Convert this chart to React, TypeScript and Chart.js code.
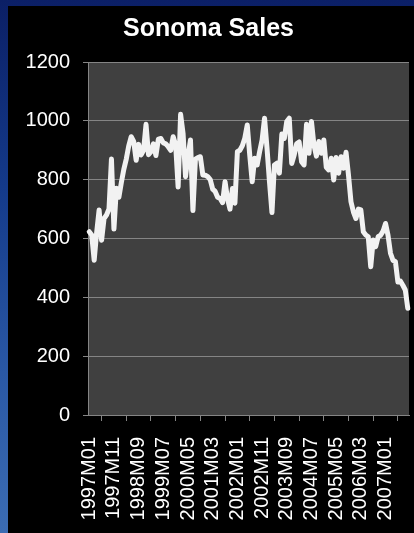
import React, { useEffect, useRef } from "react";
import { Chart, registerables } from "chart.js";

Chart.register(...registerables);

// Monthly sales, 1997M01 .. 2007M10
const START_YEAR = 1997;
const MONTH_COUNT = 130;
const LABEL_EVERY = 10;

const months: string[] = [];
for (let i = 0; i < MONTH_COUNT; i++) {
  const y = START_YEAR + Math.floor(i / 12);
  const m = (i % 12) + 1;
  months.push(`${y}M${m < 10 ? "0" + m : m}`);
}

const sales: number[] = [
  623, 612, 526, 620, 697, 594, 668, 680, 700, 870,
  632, 771, 740, 790, 835, 870, 915, 946, 930, 866,
  920, 884, 900, 988, 885, 895, 922, 882, 938, 940,
  925, 922, 912, 900, 946, 918, 775, 1022, 957, 810,
  880, 935, 695, 870, 875, 878, 816, 815, 810, 800,
  768, 760, 740, 736, 722, 793, 735, 700, 770, 720,
  895, 900, 915, 941, 986, 884, 793, 873, 850, 895,
  935, 1009, 907, 793, 688, 850, 856, 822, 955, 940,
  998, 1009, 855, 884, 922, 928, 861, 850, 988, 890,
  998, 918, 880, 930, 890, 935, 842, 833, 873, 799,
  875, 822, 878, 839, 893, 815, 725, 690, 668, 700,
  697, 623, 612, 606, 504, 595, 572, 606, 611, 625,
  651, 611, 550, 526, 521, 452, 455, 441, 425, 363,
];

const yTicks = { min: 0, max: 1200, step: 200 };

const FONT = "'Liberation Sans', Arial, sans-serif";
const GRID = "#858585";

const plotBackground = {
  id: "plotBackground",
  beforeDraw(chart: Chart) {
    const { ctx, chartArea } = chart;
    if (!chartArea) return;
    ctx.save();
    ctx.fillStyle = "#404040";
    ctx.fillRect(
      chartArea.left,
      chartArea.top,
      chartArea.right - chartArea.left,
      chartArea.bottom - chartArea.top
    );
    ctx.restore();
  },
};

export default function App() {
  const canvasRef = useRef<HTMLCanvasElement | null>(null);

  useEffect(() => {
    const canvas = canvasRef.current;
    if (!canvas) return;
    const chart = new Chart(canvas, {
      type: "line",
      data: {
        labels: months,
        datasets: [
          {
            label: "Sonoma Sales",
            data: sales,
            borderColor: "#f2f2f2",
            borderWidth: 5,
            pointRadius: 0,
            tension: 0,
            borderJoinStyle: "round",
            borderCapStyle: "round",
          },
        ],
      },
      options: {
        responsive: false,
        animation: false,
        devicePixelRatio: 1,
        layout: { padding: { left: 0, right: 5, top: 0, bottom: 0 } },
        plugins: {
          legend: { display: false },
          tooltip: { enabled: false },
          title: {
            display: true,
            text: "Sonoma Sales",
            color: "#ffffff",
            font: { family: FONT, size: 25, weight: "bold", lineHeight: 1.2 },
            padding: { top: 8, bottom: 18 },
          },
        },
        scales: {
          x: {
            offset: true,
            grid: {
              offset: true,
              drawOnChartArea: false,
              drawTicks: true,
              tickLength: 6,
              color: GRID,
            },
            border: { display: true, color: GRID, width: 1 },
            ticks: {
              autoSkip: false,
              maxRotation: 90,
              minRotation: 90,
              padding: 16,
              color: "#ffffff",
              font: { family: FONT, size: 20 },
              callback: (_v: any, i: number) =>
                i % LABEL_EVERY === 0 ? months[i] : null,
            },
            afterFit: (scale: any) => {
              scale.height = 118;
              scale.paddingLeft = 0;
              scale.paddingRight = 0;
            },
          },
          y: {
            min: yTicks.min,
            max: yTicks.max,
            grid: {
              color: GRID,
              lineWidth: 1,
              drawTicks: true,
              tickLength: 5,
            },
            border: { display: true, color: GRID, width: 1 },
            ticks: {
              stepSize: yTicks.step,
              padding: 13,
              color: "#ffffff",
              font: { family: FONT, size: 20 },
              callback: (v: any) => String(v),
            },
            afterFit: (scale: any) => {
              scale.width = 80;
              scale.paddingTop = 0;
              scale.paddingBottom = 0;
            },
          },
        },
      },
      plugins: [plotBackground],
    });
    return () => chart.destroy();
  }, []);

  return (
    <div
      style={{
        position: "fixed",
        left: 0,
        top: 0,
        width: 414,
        height: 533,
        overflow: "hidden",
        background:
          "linear-gradient(to bottom, #0b1f66 0%, #143a8a 35%, #2a58a5 70%, #3b6cb3 100%)",
      }}
    >
      <canvas
        ref={canvasRef}
        width={406}
        height={527}
        style={{
          position: "absolute",
          left: 8,
          top: 6,
          width: 406,
          height: 527,
          background: "#000000",
          display: "block",
        }}
      />
    </div>
  );
}
